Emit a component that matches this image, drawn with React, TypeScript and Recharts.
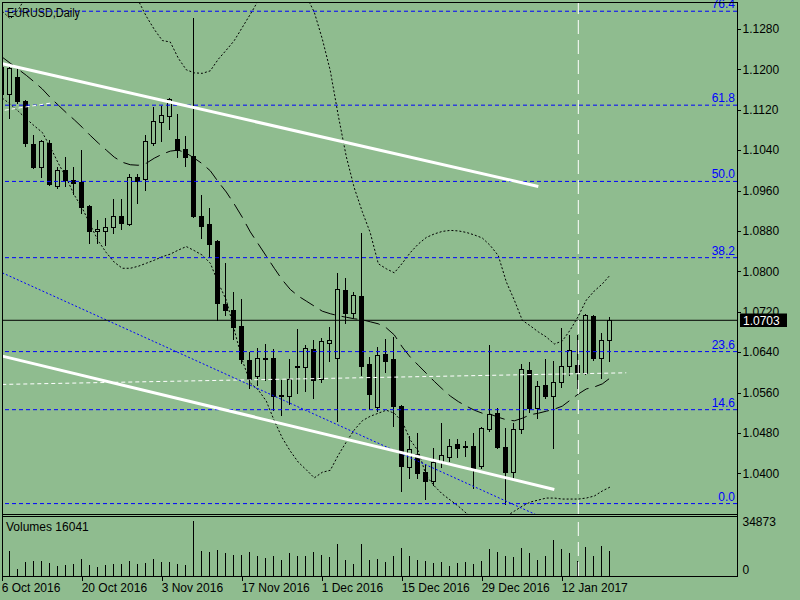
import { ComposedChart, Bar, Line, XAxis, YAxis, ReferenceLine } from 'recharts'

// ─── Data ─────────────────────────────────────────────────────────────────────
// bar index -1 = 6 Oct 2016 (cut by the left edge) … 75 = 20 Jan 2017

const firstIndex = -1

const opens = [
  1.1205, 1.1151, 1.1184, 1.1138, 1.1053, 1.1007, 1.1055, 1.0968, 1.1001, 1.098,
  1.0977, 1.093, 1.088, 1.088, 1.0888, 1.0909, 1.0894, 1.0987, 1.0982, 1.1055,
  1.1096, 1.1108, 1.1061, 1.1042, 1.1028, 1.091, 1.0894, 1.086, 1.0735, 1.0723,
  1.0692, 1.0624, 1.0593, 1.0629, 1.0628, 1.0553, 1.0553, 1.0612, 1.061, 1.0646,
  1.0586, 1.0659, 1.0628, 1.0763, 1.0717, 1.0751, 1.0616, 1.0532, 1.0636, 1.0627,
  1.0533, 1.0412, 1.0438, 1.0403, 1.0385, 1.0423, 1.0433, 1.0459, 1.0455, 1.0454,
  1.0414, 1.0487, 1.052, 1.0453, 1.0403, 1.0487, 1.0605, 1.0529, 1.0575, 1.0553,
  1.0581, 1.0613, 1.0614, 1.0599, 1.0711, 1.0628, 1.0663,
]

const highs = [
  1.1212, 1.1211, 1.1201, 1.114, 1.107, 1.106, 1.106, 1.1007, 1.1026, 1.1006,
  1.104, 1.0932, 1.0901, 1.0905, 1.0943, 1.0943, 1.0993, 1.0993, 1.107, 1.1125,
  1.1127, 1.1143, 1.1111, 1.1068, 1.1301, 1.0952, 1.0925, 1.0862, 1.0816, 1.0759,
  1.0745, 1.0641, 1.0649, 1.0657, 1.0646, 1.0585, 1.0626, 1.0685, 1.0654, 1.0664,
  1.0667, 1.0689, 1.0796, 1.0786, 1.0759, 1.0876, 1.0631, 1.0651, 1.0666, 1.0669,
  1.0535, 1.0474, 1.048, 1.0416, 1.045, 1.0499, 1.0467, 1.0467, 1.0463, 1.0479,
  1.0492, 1.0654, 1.0529, 1.0489, 1.05, 1.0616, 1.0621, 1.0583, 1.0626, 1.0622,
  1.0687, 1.0674, 1.0674, 1.0715, 1.0713, 1.0677, 1.0709,
]

const lows = [
  1.1146, 1.1104, 1.1133, 1.1049, 1.1005, 1.0986, 1.0971, 1.0964, 1.0968, 1.0954,
  1.0916, 1.0857, 1.0857, 1.0852, 1.0875, 1.0884, 1.0892, 1.0936, 1.0961, 1.1051,
  1.1059, 1.1081, 1.1027, 1.1009, 1.0907, 1.0865, 1.0829, 1.0704, 1.0713, 1.0665,
  1.0619, 1.0568, 1.0575, 1.0585, 1.0525, 1.0515, 1.0537, 1.056, 1.0562, 1.055,
  1.0581, 1.0622, 1.0504, 1.0698, 1.071, 1.0595, 1.0527, 1.0524, 1.0601, 1.0494,
  1.0364, 1.0391, 1.0391, 1.035, 1.0377, 1.0413, 1.0425, 1.0433, 1.0434, 1.037,
  1.041, 1.0484, 1.045, 1.0339, 1.0387, 1.0479, 1.0522, 1.0509, 1.055, 1.0451,
  1.057, 1.0595, 1.0568, 1.0597, 1.0624, 1.0588, 1.0622,
]

const closes = [
  1.1151, 1.1202, 1.1138, 1.1055, 1.1007, 1.1058, 1.0972, 1.1001, 1.0981, 1.0974,
  1.0928, 1.088, 1.0883, 1.0887, 1.0909, 1.0895, 1.0986, 1.0979, 1.1058, 1.1098,
  1.1109, 1.1141, 1.104, 1.1026, 1.091, 1.089, 1.0854, 1.0737, 1.0723, 1.0689,
  1.0626, 1.0586, 1.0628, 1.0626, 1.0553, 1.0555, 1.0586, 1.061, 1.0649, 1.0585,
  1.0662, 1.0664, 1.0764, 1.0717, 1.0753, 1.0613, 1.0557, 1.0634, 1.0623, 1.0533,
  1.0414, 1.0448, 1.04, 1.0385, 1.0423, 1.0436, 1.0454, 1.0451, 1.0453, 1.0411,
  1.049, 1.0517, 1.0453, 1.0403, 1.0488, 1.0606, 1.0529, 1.0573, 1.0553, 1.058,
  1.0612, 1.0644, 1.0601, 1.0713, 1.0628, 1.0663, 1.0703,
]

const volumes = [
  14000, 16040, 4440, 9070, 9510, 9510, 8450, 6550, 6970, 7400,
  10780, 6970, 5500, 6970, 7600, 7600, 9510, 7600, 8030, 10780,
  9070, 9070, 7600, 6970, 34873, 15850, 15400, 16480, 14790, 13520,
  13520, 15220, 12890, 11620, 12890, 10140, 14790, 12890, 12890, 15400,
  13520, 12260, 20500, 10140, 7600, 20500, 10140, 10780, 9070, 12890,
  17750, 12890, 10140, 9510, 8450, 9070, 6550, 8450, 9070, 7600,
  9510, 17120, 15220, 12890, 12050, 17750, 14790, 10140, 12890, 22820,
  17120, 14790, 9510, 18580, 12890, 19210, 16041,
]

// Bollinger bands as drawn (upper runs off the top of the window for a while)
const bandUpper = [
  1.1315, 1.13, 1.1318, 1.1345, 1.136, 1.137, 1.1378, 1.1383, 1.1385, 1.1385,
  1.1383, 1.1378, 1.1372, 1.1365, 1.1358, 1.135, 1.1342, 1.1336, 1.1305, 1.1279,
  1.1257, 1.1254, 1.1222, 1.1199, 1.1193, 1.1192, 1.1197, 1.122, 1.1238, 1.1257,
  1.1283, 1.1309, 1.1336, 1.136, 1.1375, 1.1382, 1.138, 1.1368, 1.1345, 1.1313,
  1.126, 1.1197, 1.1108, 1.1027, 1.0965, 1.0918, 1.0876, 1.0815, 1.0805, 1.0797,
  1.0816, 1.0837, 1.0854, 1.0867, 1.0874, 1.0879, 1.0881, 1.088, 1.0877, 1.0872,
  1.0866, 1.0851, 1.0831, 1.0779, 1.0743, 1.0703, 1.0692, 1.068, 1.067, 1.0656,
  1.0662, 1.0684, 1.0711, 1.0743, 1.0761, 1.0775, 1.0793,
]

const bandMiddle = [
  1.1224, 1.1212, 1.12, 1.1188, 1.1175, 1.1161, 1.1144, 1.1129, 1.1114, 1.11,
  1.1085, 1.1069, 1.1054, 1.104, 1.1026, 1.1016, 1.1011, 1.101, 1.1014, 1.1024,
  1.1032, 1.1038, 1.104, 1.1034, 1.1024, 1.1013, 1.0999, 1.0977, 1.0957, 1.0933,
  1.0907, 1.0878, 1.0854, 1.083, 1.0806, 1.0783, 1.0764, 1.0751, 1.0741, 1.0731,
  1.0721, 1.0716, 1.0712, 1.0709, 1.0706, 1.0704, 1.07, 1.0696, 1.0688, 1.0674,
  1.065, 1.063, 1.0614, 1.0598, 1.0582, 1.0567, 1.0553, 1.0542, 1.0533, 1.0525,
  1.0519, 1.0517, 1.0511, 1.0506, 1.0504, 1.0509, 1.0516, 1.0519, 1.0523, 1.0527,
  1.0533, 1.0545, 1.0557, 1.0567, 1.0571, 1.0577, 1.0589,
]

const bandLower = [
  1.1143, 1.1131, 1.1117, 1.1102, 1.1088, 1.1075, 1.1046, 1.1014, 1.0985, 1.0951,
  1.0925, 1.0892, 1.086, 1.0837, 1.0818, 1.0806, 1.0806, 1.081, 1.0816, 1.0822,
  1.0829, 1.0834, 1.0842, 1.0849, 1.0841, 1.0832, 1.0816, 1.0777, 1.0743, 1.0684,
  1.0624, 1.0579, 1.0565, 1.0543, 1.0504, 1.047, 1.0444, 1.0422, 1.0407, 1.0391,
  1.0402, 1.0406, 1.0436, 1.0462, 1.0486, 1.0504, 1.0513, 1.0519, 1.0525, 1.0519,
  1.0502, 1.0466, 1.0444, 1.0395, 1.0375, 1.0359, 1.0347, 1.0335, 1.0321, 1.0308,
  1.03, 1.03, 1.0306, 1.0315, 1.0325, 1.0335, 1.0343, 1.0347, 1.0351, 1.0351,
  1.0349, 1.0349, 1.0349, 1.0351, 1.0355, 1.0365, 1.0373,
]

const dateTicks = [-1, 9, 19, 29, 39, 49, 59, 69]
const dateLabels = [
  '6 Oct 2016', '20 Oct 2016', '3 Nov 2016', '17 Nov 2016',
  '1 Dec 2016', '15 Dec 2016', '29 Dec 2016', '12 Jan 2017',
]

const priceTicks = [1.04, 1.048, 1.056, 1.064, 1.072, 1.08, 1.088, 1.096, 1.104, 1.112, 1.12, 1.128]

const fibNames = ['0.0', '14.6', '23.6', '38.2', '50.0', '61.8', '76.4']
const fibPrices = [1.034, 1.0526, 1.0641, 1.0827, 1.0978, 1.1129, 1.1315]

const lastPrice = 1.0703
const maxVolume = 34873
const separatorIndex = 71

const upperTrend = [{ x: -1, y: 1.1211 }, { x: 66, y: 1.0968 }]
const lowerTrend = [{ x: -1, y: 1.0632 }, { x: 68, y: 1.0368 }]
const blueTrend = [{ x: -1, y: 1.0797 }, { x: 66, y: 1.0316 }]
const whiteLevel = [{ x: -1, y: 1.0576 }, { x: 77, y: 1.0599 }]
const whiteStub = [{ x: -0.7, y: 1.1119 }, { x: 5, y: 1.1133 }]

// ─── Setup ────────────────────────────────────────────────────────────────────

const BG = '#8fbc8f'
const BLUE = '#0000ff'
const FONT = '"Liberation Sans", Arial, sans-serif'
const X_DOMAIN = [-1.0375, 90.8375]
const PRICE_DOMAIN = [1.031941, 1.133327]

const rows = opens.map((open, k) => ({
  i: firstIndex + k,
  open,
  high: highs[k],
  low: lows[k],
  close: closes[k],
  volume: volumes[k],
  upper: bandUpper[k],
  middle: bandMiddle[k],
  lower: bandLower[k],
}))

// ─── Shapes ───────────────────────────────────────────────────────────────────

function Candle(props: any) {
  const { x, y, width, height, payload } = props
  if (!payload || !Number.isFinite(x) || !Number.isFinite(y)) return null
  const top = Math.min(y, y + height)
  const span = Math.abs(height)
  const range = payload.high - payload.low || 1
  const toY = (p: number) => top + ((payload.high - p) / range) * span
  const px = Math.floor(x + width / 2)
  const yo = toY(payload.open)
  const yc = toY(payload.close)
  const bTop = Math.round(Math.min(yo, yc))
  const bBot = Math.round(Math.max(yo, yc))
  const bull = payload.close >= payload.open
  return (
    <g shapeRendering="crispEdges">
      <line x1={px + 0.5} x2={px + 0.5} y1={Math.round(top)} y2={Math.round(top + span) + 1} stroke="#000" />
      {bull ? (
        <rect x={px - 1.5} y={bTop + 0.5} width={4} height={Math.max(bBot - bTop, 1)} fill={BG} stroke="#000" />
      ) : (
        <rect x={px - 2} y={bTop} width={5} height={Math.max(bBot - bTop, 1) + 1} fill="#000" />
      )}
    </g>
  )
}

function VolumeStick(props: any) {
  const { x, y, width, height } = props
  if (!Number.isFinite(x) || !Number.isFinite(y)) return null
  const px = Math.floor(x + width / 2)
  const top = Math.min(y, y + height)
  return (
    <line
      x1={px + 0.5}
      x2={px + 0.5}
      y1={Math.round(top)}
      y2={Math.round(top + Math.abs(height))}
      stroke="#000"
      shapeRendering="crispEdges"
    />
  )
}

function PriceTick({ x, y, payload }: any) {
  if (payload.value === lastPrice) {
    return (
      <g>
        <rect x={x + 3} y={Math.round(y) - 6.5} width={47} height={13.5} fill="#000" />
        <text x={x + 6} y={y + 4.5} fontSize={12} fontFamily={FONT} fill="#fff">
          {lastPrice.toFixed(4)}
        </text>
      </g>
    )
  }
  return (
    <g>
      <line x1={x} x2={x + 4} y1={Math.round(y) + 0.5} y2={Math.round(y) + 0.5} stroke="#000" shapeRendering="crispEdges" />
      <text x={x + 5.5} y={y + 4.3} fontSize={12} fontFamily={FONT} fill="#000">
        {payload.value.toFixed(4)}
      </text>
    </g>
  )
}

function VolumeTick({ x, y, payload }: any) {
  const isZero = payload.value === 0
  return (
    <text x={x + 5.5} y={isZero ? y - 1.7 : y + 5.3} fontSize={12} fontFamily={FONT} fill="#000">
      {payload.value}
    </text>
  )
}

function DateTick({ x, y, payload }: any) {
  const label = dateLabels[dateTicks.indexOf(payload.value)]
  const px = Math.floor(x) + 0.5
  return (
    <g>
      <line x1={px} x2={px} y1={y} y2={y + 4.5} stroke="#000" shapeRendering="crispEdges" />
      <text x={x - 0.6} y={y + 15.5} fontSize={12} fontFamily={FONT} fill="#000">
        {label}
      </text>
    </g>
  )
}

const fibLabel = (text: string) => (props: any) => {
  const vb = props.viewBox
  if (!vb) return null
  return (
    <text x={vb.x + vb.width - 2} y={vb.y - 3} textAnchor="end" fontSize={12} fontFamily={FONT} fill={BLUE}>
      {text}
    </text>
  )
}

// ─── Chart ────────────────────────────────────────────────────────────────────

export default function App() {
  return (
    <div
      style={{
        position: 'absolute',
        left: 0,
        top: 0,
        width: 800,
        height: 600,
        background: BG,
        overflow: 'hidden',
        fontFamily: FONT,
      }}
    >
      <div style={{ position: 'absolute', left: 0, top: 0 }}>
        <ComposedChart width={800} height={514} data={rows} margin={{ top: 2, right: 0, bottom: 0, left: 2 }}>
          <XAxis dataKey="i" type="number" domain={X_DOMAIN} allowDataOverflow hide />
          <YAxis
            orientation="right"
            type="number"
            domain={PRICE_DOMAIN}
            allowDataOverflow
            width={63}
            ticks={[...priceTicks, lastPrice]}
            interval={0}
            tick={<PriceTick />}
            tickLine={false}
            axisLine={false}
            tickSize={0}
            tickMargin={0}
          />
          <ReferenceLine
            segment={whiteLevel}
            stroke="#fff"
            strokeDasharray="4 3"
            ifOverflow="hidden"
          />
          <Bar
            dataKey={(d: any) => [d.low, d.high]}
            barSize={5}
            shape={<Candle />}
            isAnimationActive={false}
          />
          <Line type="linear" dataKey="upper" stroke="#000" strokeWidth={1} strokeDasharray="2 2" dot={false} activeDot={false} isAnimationActive={false} />
          <Line type="linear" dataKey="middle" stroke="#000" strokeWidth={1} strokeDasharray="16 7" dot={false} activeDot={false} isAnimationActive={false} />
          <Line type="linear" dataKey="lower" stroke="#000" strokeWidth={1} strokeDasharray="2 2" dot={false} activeDot={false} isAnimationActive={false} />
          {fibPrices.map((p, k) => (
            <ReferenceLine
              key={fibNames[k]}
              y={p}
              stroke={BLUE}
              strokeDasharray="4 3"
              ifOverflow="hidden"
              label={fibLabel(fibNames[k])}
            />
          ))}
          <ReferenceLine segment={whiteStub} stroke="#fff" strokeDasharray="4 3" ifOverflow="hidden" />
          <ReferenceLine segment={blueTrend} stroke={BLUE} strokeDasharray="2 2" ifOverflow="hidden" />
          <ReferenceLine segment={upperTrend} stroke="#fff" strokeWidth={3} ifOverflow="hidden" />
          <ReferenceLine segment={lowerTrend} stroke="#fff" strokeWidth={3} ifOverflow="hidden" />
          <ReferenceLine y={lastPrice} stroke="#000" />
          <ReferenceLine x={separatorIndex} stroke="#fff" strokeDasharray="14 6" />
        </ComposedChart>
      </div>

      <div style={{ position: 'absolute', left: 0, top: 516 }}>
        <ComposedChart width={800} height={84} data={rows} margin={{ top: 5, right: 0, bottom: 0, left: 2 }}>
          <XAxis
            dataKey="i"
            type="number"
            domain={X_DOMAIN}
            allowDataOverflow
            height={24}
            ticks={dateTicks}
            interval={0}
            tick={<DateTick />}
            tickLine={false}
            axisLine={false}
            tickSize={0}
            tickMargin={0}
          />
          <YAxis
            orientation="right"
            type="number"
            domain={[0, maxVolume]}
            allowDataOverflow
            width={63}
            ticks={[0, maxVolume]}
            interval={0}
            tick={<VolumeTick />}
            tickLine={false}
            axisLine={false}
            tickSize={0}
            tickMargin={0}
          />
          <Bar dataKey="volume" barSize={1} shape={<VolumeStick />} isAnimationActive={false} />
          <ReferenceLine x={separatorIndex} stroke="#fff" strokeDasharray="14 6" />
        </ComposedChart>
      </div>

      <svg
        width={800}
        height={600}
        style={{ position: 'absolute', left: 0, top: 0, pointerEvents: 'none' }}
      >
        <g stroke="#000" strokeWidth={1} shapeRendering="crispEdges">
          <line x1={2.5} y1={2} x2={2.5} y2={577} />
          <line x1={737.5} y1={2} x2={737.5} y2={577} />
          <line x1={2} y1={2.5} x2={738} y2={2.5} />
          <line x1={2} y1={514.5} x2={738} y2={514.5} />
          <line x1={2} y1={516.5} x2={738} y2={516.5} />
          <line x1={2} y1={576.5} x2={738} y2={576.5} />
        </g>
        <text x={7} y={16.5} fontSize={12} fontFamily={FONT} fill="#000" textLength={73} lengthAdjust="spacingAndGlyphs">
          EURUSD,Daily
        </text>
        <text x={6} y={531.3} fontSize={12} fontFamily={FONT} fill="#000">
          {`Volumes ${volumes[volumes.length - 1]}`}
        </text>
      </svg>
    </div>
  )
}
